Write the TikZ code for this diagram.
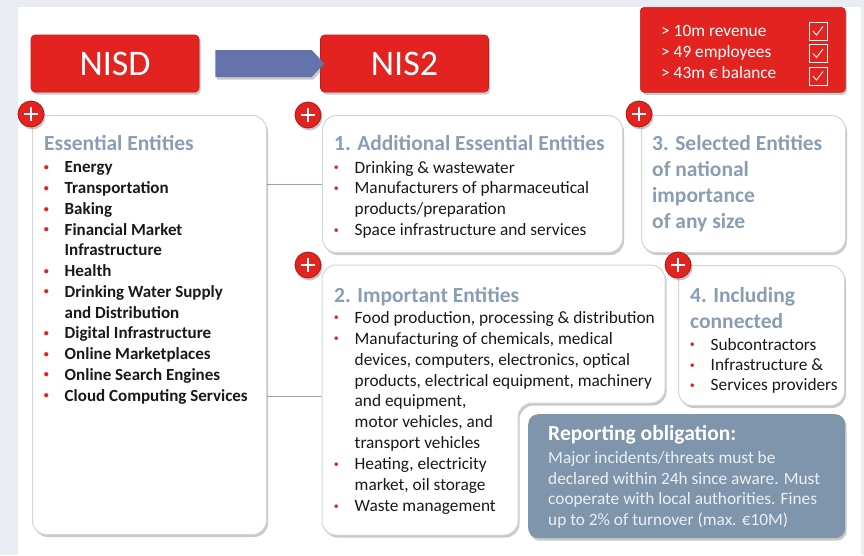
\documentclass[tikz,border=0pt]{standalone}
\usepackage{fontspec}
\setmainfont{Carlito}
\usetikzlibrary{shapes.arrows,shadows}

\definecolor{nisred}{RGB}{226,35,31}
\definecolor{darkred}{RGB}{175,22,20}
\definecolor{pagegrey}{RGB}{233,236,243}
\definecolor{headgrey}{RGB}{137,157,180}
\definecolor{slate}{RGB}{126,149,171}
\definecolor{shiftblue}{RGB}{100,115,172}
\definecolor{linkblue}{RGB}{145,165,190}
\definecolor{cardline}{RGB}{212,214,218}
\definecolor{bulletred}{RGB}{232,30,30}
\definecolor{paletext}{RGB}{236,240,244}

\newcommand{\bul}{\makebox[20.5pt][l]{\hspace{-0.3pt}\raisebox{2.4pt}{\color{bulletred}\fontsize{10}{10}\selectfont\textbullet}}}
\newcommand{\ind}{\hspace*{20.5pt}}

% multi-line nodes sit on the baseline of their last line
\tikzset{
  softshadow/.style={drop shadow={shadow xshift=1.5pt, shadow yshift=-2.5pt, opacity=.35, fill=black!60}},
  card/.style={draw=cardline, line width=1pt, fill=white, rounded corners=14pt, softshadow},
  redbox/.style={fill=nisred, draw=nisred!85!black, line width=.6pt, rounded corners=4pt, softshadow, text=white},
  plus/.style={circle, fill=nisred, draw=darkred, line width=.8pt, minimum size=26pt, inner sep=0pt, softshadow,
    path picture={\draw[white, line width=2.6pt] (path picture bounding box.center) +(-7,0) -- +(7,0) +(0,-7) -- +(0,7);}},
  head/.style={font=\bfseries\fontsize{21.5}{26}\selectfont, text=headgrey, anchor=base west, inner sep=0pt, align=left},
  items/.style={font=\fontsize{17.3}{20.8}\selectfont, text=black!90, anchor=base west, inner sep=0pt, align=left},
  bolditems/.style={items, font=\bfseries\fontsize{17}{20.73}\selectfont},
  link/.style={draw=linkblue, line width=.8pt},
  tick/.style={draw=white, line width=.8pt, minimum size=18pt, inner sep=0pt,
    path picture={\draw[white, line width=.9pt] (path picture bounding box.center) +(-5,0) -- +(-1.5,4) -- +(5,-4.5);}}
}

\begin{document}
\begin{tikzpicture}[x=1pt, y=-1pt]
\useasboundingbox (0,0) rectangle (864,555);
\fill[pagegrey] (0,0) rectangle (864,555);
\fill[white] (18,7) rectangle (861,555);

% old and new directive
\node[redbox, minimum width=168, minimum height=57, font=\fontsize{36}{40}\selectfont] (nisd) at (115,63.5) {NISD};
\node[redbox, minimum width=168, minimum height=57, font=\fontsize{36}{40}\selectfont] (nis2) at (404.5,63.5) {NIS2};
\node[single arrow, fill=shiftblue, minimum height=109, minimum width=27, single arrow head extend=0pt,
  single arrow tip angle=94, inner sep=0pt, softshadow] (shift) at (263.5,63.5) {};

% size thresholds
\node[redbox, minimum width=205, minimum height=85, anchor=north west] (size) at (640,7) {};
\node[anchor=base west, inner sep=0pt, align=left, text=white, font=\fontsize{17.3}{21}\selectfont] (sizetext) at (661,78.7)
  {> 10m revenue\\> 49 employees\\> 43m € balance};
\foreach \i/\y in {1/31,2/53.5,3/76}
  \node[tick] (chk\i) at (818,\y) {};

% links between the lists
\coordinate (imp-in) at (322,396);
\draw[link] (266,184) -- (322,184);
\draw[link] (266,396) -- (imp-in);

% cards
\node[card, minimum width=234, minimum height=419, anchor=north west] (esscard) at (32,115) {};
\node[card, minimum width=300, minimum height=137, anchor=north west] (addlcard) at (322,115) {};
\node[card, minimum width=204, minimum height=137, anchor=north west] (selcard) at (641,115) {};
\draw[card] (322,265) -- (665,265) -- (665,403) -- (518,403) -- (518,535) -- (322,535) -- cycle;
\node[card, minimum width=166, minimum height=140, anchor=north west] (conncard) at (678,265) {};
\node[fill=slate, rounded corners=10pt, softshadow, minimum width=317, minimum height=124, anchor=north west] (report) at (528,414) {};

\node[plus] (plus1) at (31,114) {};
\node[plus] (plus2) at (308,115) {};
\node[plus] (plus3) at (639,114) {};
\node[plus] (plus4) at (308,265) {};
\node[plus] (plus5) at (678,265) {};

% essential entities
\node[head] (esshead) at (44,150) {Essential Entities};
\node[bolditems] (esslist) at (44,401) {\bul Energy\\\bul Transportation\\\bul Baking\\\bul Financial Market\\\ind Infrastructure\\
  \bul Health\\\bul Drinking Water Supply\\\ind and Distribution\\\bul Digital Infrastructure\\\bul Online Marketplaces\\
  \bul Online Search Engines\\\bul Cloud Computing Services};

% 1. additional
\node[head] (addlhead) at (334,150) {1. Additional Essential Entities};
\node[items] (addllist) at (334,235.4) {\bul Drinking \& wastewater\\\bul Manufacturers of pharmaceutical\\\ind products/preparation\\
  \bul Space infrastructure and services};

% 3. selected
\node[head] (selhead) at (652,228) {3. Selected Entities\\of national\\importance\\of any size};

% 2. important
\node[head] (imphead) at (334,302) {2. Important Entities};
\node[items, font=\fontsize{17.3}{20.9}\selectfont] (implist) at (334,511.4) {\bul Food production, processing \& distribution\\
  \bul Manufacturing of chemicals, medical\\\ind devices, computers, electronics, optical\\\ind products, electrical equipment, machinery\\
  \ind and equipment,\\\ind motor vehicles, and\\\ind transport vehicles\\\bul Heating, electricity\\\ind market, oil storage\\
  \bul Waste management};

% 4. connected
\node[head, font=\bfseries\fontsize{21.5}{26.5}\selectfont] (connhead) at (690,328.5) {4. Including\\connected};
\node[items, font=\fontsize{17.3}{20.4}\selectfont] (connlist) at (690,390.8) {\bul Subcontractors\\\bul Infrastructure \&\\\bul Services providers};

% reporting
\node[head, text=white] (rephead) at (548,440) {Reporting obligation:};
\node[items, text=paletext] (reptext) at (548,525.7) {Major incidents/threats must be\\declared within 24h since aware. Must\\
  cooperate with local authorities. Fines\\up to 2\% of turnover (max. €10M)};
\end{tikzpicture}
\end{document}
